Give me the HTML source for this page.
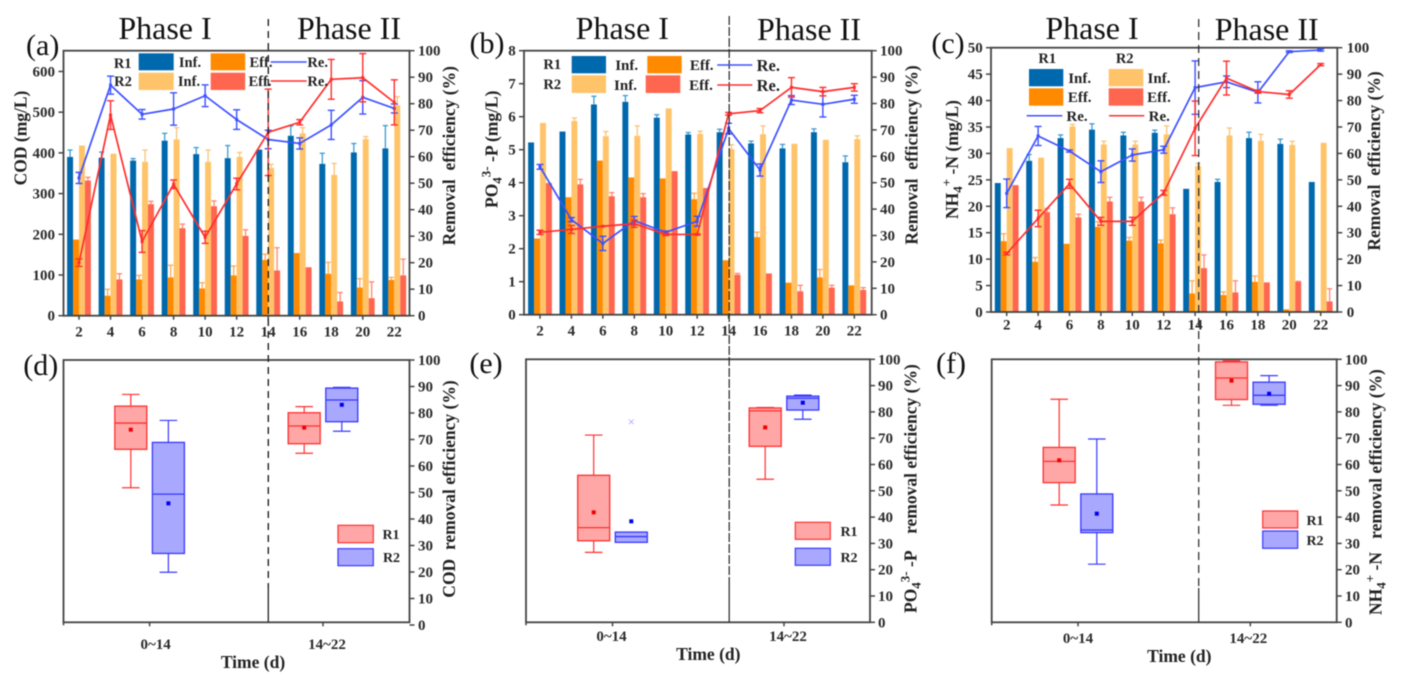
<!DOCTYPE html>
<html lang="en">
<head>
<meta charset="utf-8">
<title>Removal efficiency charts</title>
<style>
html,body{margin:0;padding:0;background:#fff;width:1410px;height:691px;overflow:hidden}
svg{display:block;filter:blur(.45px)}
text{font-family:"Liberation Serif",serif;fill:#222;white-space:pre}
.b{font-weight:bold}
.ph{font-size:32px;text-anchor:middle;fill:#111}
.pl{font-size:30px;text-anchor:middle;fill:#111}
.yt{font-size:17.5px;font-weight:bold;text-anchor:middle}
.yts{font-size:17.5px;font-weight:bold}
.lg{font-size:14.5px;font-weight:bold;text-anchor:middle}
.lgb{font-size:15px;font-weight:bold;text-anchor:middle}
.re{font-size:16.5px;font-weight:bold;text-anchor:middle}
.tm{font-size:17.5px;font-weight:bold;text-anchor:middle}
.bl{font-size:14px;font-weight:bold;text-anchor:middle}
</style>
</head>
<body>
<svg id="figure" xmlns="http://www.w3.org/2000/svg" width="1410" height="691" viewBox="0 0 1410 691">
<g id="charts"></g>

<!-- phase dividers -->
<g stroke="#222" fill="none">
  <line x1="268.3" y1="19" x2="268.3" y2="588" stroke-width="1.4" stroke-dasharray="7 5"/>
  <line x1="268.3" y1="588" x2="268.3" y2="622" stroke-width="1.3"/>
  <line x1="729.2" y1="16" x2="729.2" y2="585" stroke-width="1.2" stroke-dasharray="9 2"/>
  <line x1="729.2" y1="585" x2="729.2" y2="622" stroke-width="1.2"/>
  <line x1="1198.7" y1="19" x2="1198.7" y2="588" stroke-width="1.2" stroke-dasharray="8 5"/>
  <line x1="1198.7" y1="588" x2="1198.7" y2="622" stroke-width="1.2"/>
</g>

<!-- phase headings -->
<text class="ph" x="165" y="39">Phase I</text>
<text class="ph" x="349" y="39">Phase II</text>
<text class="ph" x="622.3" y="39">Phase I</text>
<text class="ph" x="809" y="40">Phase II</text>
<text class="ph" x="1092" y="39">Phase I</text>
<text class="ph" x="1266.7" y="40">Phase II</text>

<!-- panel letters -->
<text class="pl" x="42.7" y="55">(a)</text>
<text class="pl" x="487" y="53">(b)</text>
<text class="pl" x="948" y="53">(c)</text>
<text class="pl" x="40.7" y="375">(d)</text>
<text class="pl" x="486" y="373">(e)</text>
<text class="pl" x="951" y="373">(f)</text>

<!-- axis titles -->
<text class="yt" transform="translate(26.7 138) rotate(-90)">COD (mg/L)</text>
<text class="yt" transform="translate(455 155.7) rotate(-90)">Removal  efficiency (%)</text>
<text class="yts" transform="translate(497.7 208) rotate(-90)">PO<tspan font-size="13" dy="4">4</tspan><tspan font-size="13" dy="-11">3-</tspan><tspan dy="7"> -P (mg/L)</tspan></text>
<text class="yt" transform="translate(917.3 155) rotate(-90)">Removal  efficiency (%)</text>
<text class="yts" transform="translate(958 219) rotate(-90)">NH<tspan font-size="13" dy="4">4</tspan><tspan font-size="13" dy="-11">+</tspan><tspan dy="7"> -N (mg/L)</tspan></text>
<text class="yt" transform="translate(1380 161) rotate(-90)">Removal  efficiency (%)</text>
<text class="yt" transform="translate(455 489) rotate(-90)">COD  removal efficiency (%)</text>
<text class="yts" transform="translate(916.7 613) rotate(-90)">PO<tspan font-size="13" dy="4">4</tspan><tspan font-size="13" dy="-11">3-</tspan><tspan dy="7"> -P    removal efficiency (%)</tspan></text>
<text class="yts" transform="translate(1381.7 615) rotate(-90)">NH<tspan font-size="13" dy="4">4</tspan><tspan font-size="13" dy="-11">+</tspan><tspan dy="7"> -N   removal efficiency (%)</tspan></text>
<text class="tm" x="253" y="668">Time (d)</text>
<text class="tm" x="708.3" y="660">Time (d)</text>
<text class="tm" x="1179.3" y="662">Time (d)</text>

<!-- legend a -->
<g>
  <text class="lg" x="122.7" y="68">R1</text>
  <rect x="138.7" y="53.3" width="35" height="17" fill="#0068ad"/>
  <text class="lg" x="190" y="67">Inf.</text>
  <rect x="210.7" y="53.3" width="34.5" height="17" fill="#ff8a00"/>
  <text class="lg" x="261" y="67">Eff.</text>
  <line x1="270.7" y1="62" x2="306.7" y2="62" stroke="#3d50ff" stroke-width="1.5"/>
  <text class="lg" x="317.7" y="67">Re.</text>
  <text class="lg" x="123" y="86">R2</text>
  <rect x="138.7" y="72.7" width="35" height="17.3" fill="#ffc46a"/>
  <text class="lg" x="189" y="86">Inf.</text>
  <rect x="210.7" y="72.7" width="34.5" height="17.3" fill="#ff6650"/>
  <text class="lg" x="260" y="86">Eff.</text>
  <line x1="270.7" y1="81" x2="306.7" y2="81" stroke="#ff2d2d" stroke-width="1.5"/>
  <text class="lg" x="317.7" y="86">Re.</text>
</g>

<!-- legend b -->
<g>
  <text class="lg" x="552.3" y="69">R1</text>
  <rect x="571.7" y="56" width="34.3" height="17.3" fill="#0068ad"/>
  <text class="lgb" x="626.7" y="70">Inf.</text>
  <rect x="647.3" y="56" width="34.4" height="17.3" fill="#ff8a00"/>
  <text class="lgb" x="701.7" y="70">Eff.</text>
  <line x1="717.3" y1="65" x2="752.3" y2="65" stroke="#3d50ff" stroke-width="1.5"/>
  <text class="re" x="768.3" y="71">Re.</text>
  <text class="lg" x="552.3" y="89">R2</text>
  <rect x="571.7" y="75.3" width="34.3" height="17.7" fill="#ffc46a"/>
  <text class="lgb" x="625.5" y="90">Inf.</text>
  <rect x="645.7" y="75.3" width="34.6" height="17.7" fill="#ff6650"/>
  <text class="lgb" x="701" y="90">Eff.</text>
  <line x1="717.3" y1="85" x2="752.3" y2="85" stroke="#ff2d2d" stroke-width="1.5"/>
  <text class="re" x="768.3" y="91">Re.</text>
</g>

<!-- legend c -->
<g>
  <text class="lg" x="1047.3" y="63">R1</text>
  <text class="lg" x="1124.7" y="63">R2</text>
  <rect x="1029" y="69" width="34.3" height="17.3" fill="#0068ad"/>
  <text class="lgb" x="1079.7" y="83">Inf.</text>
  <rect x="1108.7" y="69" width="34.6" height="17.3" fill="#ffc46a"/>
  <text class="lgb" x="1159" y="83">Inf.</text>
  <rect x="1029" y="88.3" width="34.3" height="17.4" fill="#ff8a00"/>
  <text class="lgb" x="1079.7" y="102">Eff.</text>
  <rect x="1108.7" y="88.3" width="34.6" height="17.4" fill="#ff6650"/>
  <text class="lgb" x="1159" y="102">Eff.</text>
  <line x1="1026.7" y1="115.7" x2="1062.3" y2="115.7" stroke="#3d50ff" stroke-width="1.5"/>
  <text class="lgb" x="1077" y="121">Re.</text>
  <line x1="1109" y1="115.7" x2="1144.3" y2="115.7" stroke="#ff2d2d" stroke-width="1.5"/>
  <text class="lgb" x="1159.3" y="121">Re.</text>
</g>

<!-- box legends -->
<g>
  <rect x="338" y="525.3" width="35.3" height="17.4" fill="#ffa6a6" stroke="#ff3030" stroke-width="1.2"/>
  <text class="bl" x="391" y="539">R1</text>
  <rect x="338" y="548.7" width="35.3" height="17" fill="#a8a8ff" stroke="#3838ff" stroke-width="1.2"/>
  <text class="bl" x="391.5" y="562">R2</text>
</g>
<g>
  <rect x="795.3" y="522.3" width="35" height="17" fill="#ffa6a6" stroke="#ff3030" stroke-width="1.2"/>
  <text class="bl" x="849" y="536">R1</text>
  <rect x="795.3" y="548.3" width="35" height="17" fill="#a8a8ff" stroke="#3838ff" stroke-width="1.2"/>
  <text class="bl" x="849" y="562">R2</text>
</g>
<g>
  <rect x="1262.7" y="511" width="35" height="17" fill="#ffa6a6" stroke="#ff3030" stroke-width="1.2"/>
  <text class="bl" x="1315" y="525">R1</text>
  <rect x="1262.7" y="531" width="35" height="17.3" fill="#a8a8ff" stroke="#3838ff" stroke-width="1.2"/>
  <text class="bl" x="1315" y="545">R2</text>
</g>
</svg>

<script>
/* ---------- shared categories and ticks ---------- */
const days = [2, 4, 6, 8, 10, 12, 14, 16, 18, 20, 22];
const removalTicks = [0, 10, 20, 30, 40, 50, 60, 70, 80, 90, 100];
const codTicks = [0, 100, 200, 300, 400, 500, 600];
const po4Ticks = [0, 1, 2, 3, 4, 5, 6, 7, 8];
const nh4Ticks = [0, 5, 10, 15, 20, 25, 30, 35, 40, 45, 50];
const periodLabels = ['0~14', '14~22'];

/* ---------- panel (a) COD ---------- */
const codInfR1 = [390, 388, 381, 430, 397, 387, 408, 442, 373, 401, 411];
const codInfR1Err = [17, 14, 5, 18, 16, 31, 0, 24, 26, 22, 56];
const codEffR1 = [187, 49, 89, 94, 67, 99, 137, 154, 103, 69, 88];
const codEffR1Err = [0, 16, 10, 30, 14, 23, 14, 0, 28, 22, 6];
const codInfR2 = [418, 398, 378, 433, 378, 390, 363, 448, 346, 434, 517];
const codInfR2Err = [0, 0, 29, 29, 29, 11, 9, 14, 28, 6, 21];
const codEffR2 = [332, 89, 274, 215, 269, 196, 111, 119, 35, 43, 99];
const codEffR2Err = [8, 14, 7, 10, 13, 15, 56, 0, 22, 40, 40];
const codReR1 = [52, 87, 76, 78, 83, 74, 66.5, 65, 72, 82.4, 78.2];
const codReR1Err = [2.1, 3.4, 1.8, 6.1, 4.1, 3.7, 3.5, 2.1, 5.5, 6.3, 1.7];
const codReR2 = [20, 75.7, 28, 49.6, 29.6, 49.7, 69.2, 73, 89.2, 89.8, 80.5];
const codReR2Err = [1.4, 5.4, 4.1, 1.6, 2.3, 2.2, 16.3, 1, 7.5, 9.1, 8.5];

/* ---------- panel (b) PO4 ---------- */
const po4InfR1 = [5.22, 5.55, 6.37, 6.45, 5.97, 5.46, 5.53, 5.19, 5.04, 5.53, 4.62];
const po4InfR1Err = [0, 0, 0.25, 0.19, 0.09, 0.06, 0.09, 0.07, 0.12, 0.1, 0.19];
const po4EffR1 = [2.31, 3.56, 4.67, 4.16, 4.13, 3.5, 1.65, 2.35, 0.97, 1.13, 0.89];
const po4EffR1Err = [0, 0, 0, 0, 0, 0.18, 0, 0.15, 0, 0.24, 0];
const po4InfR2 = [5.81, 5.87, 5.41, 5.42, 6.25, 5.48, 5.02, 5.47, 5.18, 5.3, 5.32];
const po4InfR2Err = [0, 0.09, 0.14, 0.3, 0, 0.08, 0.13, 0.25, 0, 0, 0.1];
const po4EffR2 = [3.99, 3.95, 3.59, 3.56, 4.35, 3.84, 1.21, 1.25, 0.71, 0.82, 0.75];
const po4EffR2Err = [0, 0.15, 0.11, 0.11, 0, 0, 0.04, 0, 0.18, 0.07, 0.07];
const po4ReR1 = [56, 36, 27, 35.6, 31.2, 35.4, 70.5, 54.8, 81.3, 79.7, 81.6];
const po4ReR1Err = [0.9, 0.8, 2.7, 1.6, 0.5, 1.9, 2, 2.3, 1.7, 4.8, 1.5];
const po4ReR2 = [31.2, 32.3, 33.5, 34.5, 30.4, 30.4, 76.1, 77.3, 86.1, 84.5, 86.1];
const po4ReR2Err = [0.8, 1.5, 0, 1.4, 0.4, 0.2, 0.5, 0.8, 3.7, 1.6, 1.4];

/* ---------- panel (c) NH4 ---------- */
const nh4InfR1 = [24.4, 28.6, 32.9, 34.5, 33.4, 33.9, 23.3, 24.6, 32.9, 31.8, 24.6];
const nh4InfR1Err = [0, 1.2, 0.6, 1.1, 0.6, 0.5, 0, 0.5, 1.1, 0.9, 0];
const nh4EffR1 = [13.4, 9.5, 12.9, 16.1, 13.5, 13, 3.5, 3.2, 5.7, 0.5, 0.3];
const nh4EffR1Err = [1.4, 0.8, 0, 1, 0.6, 0.6, 2.4, 0.6, 1.1, 0, 0];
const nh4InfR2 = [31, 29.2, 35.1, 31.7, 31.7, 33.6, 27.6, 33.4, 32.4, 31.6, 32];
const nh4InfR2Err = [0, 0, 0.4, 0.6, 0.6, 1.6, 0.5, 1.4, 1.2, 0.7, 0];
const nh4EffR2 = [24, 18.9, 17.9, 20.9, 20.9, 18.5, 8.3, 3.7, 5.6, 5.7, 2];
const nh4EffR2Err = [0, 0.7, 0.6, 0.8, 0.8, 1.2, 2.5, 2.2, 0, 0.1, 2.4];
const nh4ReR1 = [44.9, 66.6, 60.9, 53.1, 59.4, 61.4, 84.9, 87.1, 83.1, 98.5, 99.1];
const nh4ReR1Err = [5.4, 3.6, 0.4, 4.1, 2.3, 1.3, 10.1, 2.2, 4, 0.3, 0.4];
const nh4ReR2 = [22.1, 35.4, 48.5, 34.3, 34.3, 45.1, 69.5, 88.5, 83.4, 82.3, 93.6];
const nh4ReR2Err = [0.5, 3.1, 1.7, 1.5, 1.5, 0.9, 10.3, 6.4, 0.6, 1.4, 0.4];

/* ---------- box statistics: [whisker high, q3, median, mean, q1, whisker low] ---------- */
const boxCodR1Early = [87, 82.6, 76.2, 73.7, 66.3, 51.8];
const boxCodR2Early = [77.2, 68.9, 49.4, 45.9, 27, 19.9];
const boxCodR1Late = [82.4, 80.1, 75.1, 74.5, 68.4, 64.8];
const boxCodR2Late = [89.7, 89.4, 84.9, 83.1, 76.7, 73.1];
const boxPo4R1Early = [71.2, 55.9, 36, 41.8, 31, 26.6];
const boxPo4R2Early = [34.3, 34.3, 32.6, 38.4, 30.4, 30.4];
const boxPo4R1Late = [81.7, 81.5, 80.4, 74.1, 66.9, 54.4];
const boxPo4R2Late = [86.4, 86, 85.2, 83.5, 80.7, 77.2];
const boxNh4R1Early = [84.8, 66.5, 61.2, 61.6, 53.1, 44.6];
const boxNh4R2Early = [69.7, 48.8, 35.1, 41.3, 34.1, 22.1];
const boxNh4R1Late = [99.4, 99, 92.9, 91.9, 84.7, 82.5];
const boxNh4R2Late = [93.8, 91.3, 86.3, 86.9, 82.9, 82.5];
const po4R2EarlyOutliers = [76.2];

/* ---------- drawing helpers ---------- */
const NS = 'http://www.w3.org/2000/svg';
const root = document.getElementById('charts');
const FRAME = '#444';
const TICKTEXT = '#2a2a2a';

function mk(tag, attrs, parent) {
  const el = document.createElementNS(NS, tag);
  for (const k in attrs) el.setAttribute(k, attrs[k]);
  parent.appendChild(el);
  return el;
}

function group(name, parent) {
  const el = mk('g', {}, parent);
  
  
  return el;
}

function drawLine(parent, name, x1, y1, x2, y2, color, width) {
  const el = mk('line', { x1: x1, y1: y1, x2: x2, y2: y2, stroke: color, 'stroke-width': width }, parent);
  
  
  return el;
}

function drawLabel(parent, name, x, y, str, anchor) {
  const el = mk('text', { x: x, y: y, 'font-size': 15, 'font-weight': 'bold', 'text-anchor': anchor, style: 'fill:' + TICKTEXT }, parent);
  el.textContent = str;
  
  
  return el;
}

function drawFrame(p, g) {
  const el = mk('rect', { x: p.left, y: p.top, width: p.right - p.left, height: p.bottom - p.top, fill: 'none', stroke: FRAME, 'stroke-width': 1.8 }, g);
  
  
}

function drawRightAxis(p, g, yR) {
  removalTicks.forEach(function (t) {
    drawLine(g, p.id + '-right-tick-' + t, p.right, yR(t), p.right + 5, yR(t), FRAME, 1.5);
    drawLabel(g, p.id + '-right-tick-label-' + t, p.rightLabelX, yR(t) + 5, String(t), 'start');
  });
}

function drawErr(g, name, x, yHigh, yLow, color, cap, width) {
  drawLine(g, name + '-stem', x, yHigh, x, yLow, color, width);
  drawLine(g, name + '-cap-top', x - cap, yHigh, x + cap, yHigh, color, width);
  if (yLow !== yHigh) {
    drawLine(g, name + '-cap-bottom', x - cap, yLow, x + cap, yLow, color, width);
  }
}

/* bar + line panels */
function drawBarPanel(p, ticks, barSeries, lineSeries) {
  const g = group('panel-' + p.id, root);
  const xScale = function (day) { return p.x2 + (day - days[0]) * (p.x22 - p.x2) / (days[days.length - 1] - days[0]); };
  const yL = function (v) { return p.bottom - v * (p.bottom - p.top) / p.leftMax; };
  const yR = function (v) { return p.bottom - v * (p.bottom - p.top) / 100; };

  barSeries.forEach(function (s, si) {
    const sg = group(p.id + '-bars-' + s.name, g);
    const off = (si - 1.5) * 5.95;
    days.forEach(function (day, i) {
      const cx = xScale(day) + off;
      const top = yL(s.values[i]);
      const bar = mk('rect', { x: cx - 2.98, y: top, width: 5.95, height: p.bottom - top, fill: s.color }, sg);
      
      
      if (s.err[i] > 0) {
        const up = yL(s.values[i] + s.err[i]);
        drawLine(sg, 'bar-error-' + s.name + '-day-' + day, cx, up, cx, top, s.errColor, 1.3);
        drawLine(sg, 'bar-error-cap-' + s.name + '-day-' + day, cx - 2.6, up, cx + 2.6, up, s.errColor, 1.3);
      }
    });
  });

  drawFrame(p, g);
  ticks.forEach(function (t) {
    drawLine(g, p.id + '-left-tick-' + t, p.left - 5, yL(t), p.left, yL(t), FRAME, 1.5);
    drawLabel(g, p.id + '-left-tick-label-' + t, p.leftLabelX, yL(t) + 5, String(t), 'end');
  });
  drawRightAxis(p, g, yR);
  days.forEach(function (day) {
    drawLine(g, p.id + '-x-tick-' + day, xScale(day), p.bottom, xScale(day), p.bottom + 4, FRAME, 1.5);
    drawLabel(g, p.id + '-x-tick-label-' + day, xScale(day), p.xLabelY, String(day), 'middle');
  });

  lineSeries.forEach(function (s) {
    const lg = group(p.id + '-line-' + s.name, g);
    const pts = days.map(function (day, i) { return xScale(day) + ',' + yR(s.values[i]); }).join(' ');
    const line = mk('polyline', { points: pts, fill: 'none', stroke: s.color, 'stroke-width': 1.7, 'stroke-linejoin': 'round' }, lg);
    
    
    days.forEach(function (day, i) {
      const x = xScale(day);
      const hi = yR(s.values[i] + s.err[i]);
      const lo = yR(s.values[i] - s.err[i]);
      drawErr(lg, 'line-error-' + s.name + '-day-' + day, x, hi, lo, s.color, 3.5, 1.4);
      const pt = mk('rect', { x: x - 1.5, y: yR(s.values[i]) - 1.5, width: 3, height: 3, fill: s.color }, lg);
      
      
    });
  });
}

/* box panels */
function drawBox(g, name, cx, stats, yR, stroke, fill) {
  const bg = group(name, g);
  const w = 16;
  const cap = 8.8;
  drawLine(bg, name + '-whisker-high', cx, yR(stats[0]), cx, yR(stats[1]), stroke, 1.2);
  drawLine(bg, name + '-whisker-low', cx, yR(stats[4]), cx, yR(stats[5]), stroke, 1.2);
  drawLine(bg, name + '-cap-high', cx - cap, yR(stats[0]), cx + cap, yR(stats[0]), stroke, 1.2);
  drawLine(bg, name + '-cap-low', cx - cap, yR(stats[5]), cx + cap, yR(stats[5]), stroke, 1.2);
  const box = mk('rect', { x: cx - w, y: yR(stats[1]), width: 2 * w, height: yR(stats[4]) - yR(stats[1]), fill: fill, stroke: stroke, 'stroke-width': 1.3 }, bg);
  
  
  drawLine(bg, name + '-median', cx - w, yR(stats[2]), cx + w, yR(stats[2]), stroke, 1.3);
  const mean = mk('rect', { x: cx - 2, y: yR(stats[3]) - 2, width: 4, height: 4, fill: stroke === '#ff3030' ? '#f00000' : '#0000f0' }, bg);
  
  
}

function drawBoxPanel(p, boxes) {
  const g = group('panel-' + p.id, root);
  const yR = function (v) { return p.zeroY - v * (p.zeroY - p.top) / 100; };
  const catX = function (i) { return p.cat0 + i * p.catStep; };
  drawFrame(p, g);
  drawRightAxis(p, g, yR);
  drawLine(g, p.id + '-left-end-tick', p.left, p.bottom, p.left, p.bottom + 3, FRAME, 1.5);
  periodLabels.forEach(function (label, i) {
    drawLine(g, p.id + '-x-tick-' + i, catX(i), p.bottom, catX(i), p.bottom + 4, FRAME, 1.5);
    drawLabel(g, p.id + '-x-tick-label-' + i, catX(i) + p.labelShift[i], p.xLabelY, label, 'middle');
  });
  boxes.forEach(function (b) {
    const cx = catX(b.period) + (b.reactor === 1 ? -18.8 : 18.8);
    drawBox(g, p.id + '-box-r' + b.reactor + '-period-' + b.period, cx, b.stats, yR,
      b.reactor === 1 ? '#ff3030' : '#3838ff',
      b.reactor === 1 ? '#ffa6a6' : '#a8a8ff');
    (b.outliers || []).forEach(function (v, k) {
      const o = mk('text', { x: cx, y: yR(v) + 4, 'font-size': 13, 'text-anchor': 'middle', style: 'fill:#9a9aff' }, g);
      o.textContent = '×';
      
      
    });
  });
}

/* ---------- render ---------- */
const BLUE = '#0068ad', ORANGE = '#ff8a00', LIGHT = '#ffc46a', CORAL = '#ff6650';
const BLUEE = '#3d9bd4', ORANGEE = '#ffa94d', LIGHTE = '#f9c378', CORALE = '#ff8674';
const LBLUE = '#3d50ff', LRED = '#ff2d2d';

drawBarPanel({ id: 'a', left: 63.5, right: 409.5, top: 50.7, bottom: 315.7, leftMax: 651, x2: 79, x22: 394.3, leftLabelX: 55, rightLabelX: 418, xLabelY: 336.7 }, codTicks,
  [{ name: 'cod-inf-r1', values: codInfR1, err: codInfR1Err, color: BLUE, errColor: BLUEE },
   { name: 'cod-eff-r1', values: codEffR1, err: codEffR1Err, color: ORANGE, errColor: ORANGEE },
   { name: 'cod-inf-r2', values: codInfR2, err: codInfR2Err, color: LIGHT, errColor: LIGHTE },
   { name: 'cod-eff-r2', values: codEffR2, err: codEffR2Err, color: CORAL, errColor: CORALE }],
  [{ name: 'cod-re-r1', values: codReR1, err: codReR1Err, color: LBLUE },
   { name: 'cod-re-r2', values: codReR2, err: codReR2Err, color: LRED }]);

drawBarPanel({ id: 'b', left: 524, right: 871.7, top: 50.7, bottom: 314.7, leftMax: 8, x2: 540, x22: 854.3, leftLabelX: 515.7, rightLabelX: 880, xLabelY: 335.3 }, po4Ticks,
  [{ name: 'po4-inf-r1', values: po4InfR1, err: po4InfR1Err, color: BLUE, errColor: BLUEE },
   { name: 'po4-eff-r1', values: po4EffR1, err: po4EffR1Err, color: ORANGE, errColor: ORANGEE },
   { name: 'po4-inf-r2', values: po4InfR2, err: po4InfR2Err, color: LIGHT, errColor: LIGHTE },
   { name: 'po4-eff-r2', values: po4EffR2, err: po4EffR2Err, color: CORAL, errColor: CORALE }],
  [{ name: 'po4-re-r1', values: po4ReR1, err: po4ReR1Err, color: LBLUE },
   { name: 'po4-re-r2', values: po4ReR2, err: po4ReR2Err, color: LRED }]);

drawBarPanel({ id: 'c', left: 991, right: 1337.3, top: 47.7, bottom: 312, leftMax: 50, x2: 1006.7, x22: 1320.7, leftLabelX: 982.7, rightLabelX: 1346.7, xLabelY: 329.3 }, nh4Ticks,
  [{ name: 'nh4-inf-r1', values: nh4InfR1, err: nh4InfR1Err, color: BLUE, errColor: BLUEE },
   { name: 'nh4-eff-r1', values: nh4EffR1, err: nh4EffR1Err, color: ORANGE, errColor: ORANGEE },
   { name: 'nh4-inf-r2', values: nh4InfR2, err: nh4InfR2Err, color: LIGHT, errColor: LIGHTE },
   { name: 'nh4-eff-r2', values: nh4EffR2, err: nh4EffR2Err, color: CORAL, errColor: CORALE }],
  [{ name: 'nh4-re-r1', values: nh4ReR1, err: nh4ReR1Err, color: LBLUE },
   { name: 'nh4-re-r2', values: nh4ReR2, err: nh4ReR2Err, color: LRED }]);

drawBoxPanel({ id: 'd', left: 63.5, right: 409.5, top: 360, bottom: 622.3, zeroY: 625, rightLabelX: 418, cat0: 149.6, catStep: 173.4, labelShift: [6, 4], xLabelY: 649 }, [
  { period: 0, reactor: 1, stats: boxCodR1Early },
  { period: 0, reactor: 2, stats: boxCodR2Early },
  { period: 1, reactor: 1, stats: boxCodR1Late },
  { period: 1, reactor: 2, stats: boxCodR2Late }]);

drawBoxPanel({ id: 'e', left: 526, right: 870, top: 359.3, bottom: 622.3, zeroY: 622.3, rightLabelX: 878, cat0: 612.5, catStep: 171.5, labelShift: [-1, 4], xLabelY: 641 }, [
  { period: 0, reactor: 1, stats: boxPo4R1Early },
  { period: 0, reactor: 2, stats: boxPo4R2Early, outliers: po4R2EarlyOutliers },
  { period: 1, reactor: 1, stats: boxPo4R1Late },
  { period: 1, reactor: 2, stats: boxPo4R2Late }]);

drawBoxPanel({ id: 'f', left: 991.7, right: 1336.7, top: 359.3, bottom: 622.3, zeroY: 622.3, rightLabelX: 1345, cat0: 1078, catStep: 172.3, labelShift: [0, -2], xLabelY: 643 }, [
  { period: 0, reactor: 1, stats: boxNh4R1Early },
  { period: 0, reactor: 2, stats: boxNh4R2Early },
  { period: 1, reactor: 1, stats: boxNh4R1Late },
  { period: 1, reactor: 2, stats: boxNh4R2Late }]);
</script>
</body>
</html>
